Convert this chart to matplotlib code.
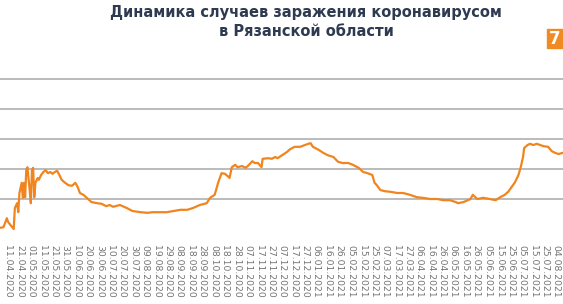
import numpy as np
import pandas as pd
import matplotlib
matplotlib.use("Agg")
import matplotlib.pyplot as plt
from matplotlib.patches import Rectangle

# Данные: смещение в днях от 04.04.2020 и значение
start_date = "2020-04-04"
day_offset = [0, 3, 6, 7, 9, 12, 13, 15, 16, 17, 19, 20, 21, 22, 23, 24, 26, 27, 28, 29,
              30, 31, 33, 34, 36, 38, 40, 42, 44, 46, 48, 50, 52, 54, 57, 60, 63, 66, 68, 70,
              73, 76, 80, 85, 89, 93, 96, 99, 105, 111, 116, 123, 129, 134, 140, 146, 152,
              158, 164, 169, 175, 181, 184, 188, 190, 191, 194, 197, 200, 201, 203, 206, 208,
              212, 215, 217, 221, 223, 226, 229, 230, 235, 238, 241, 243, 247, 251, 254, 258,
              263, 267, 270, 272, 274, 279, 283, 287, 292, 296, 300, 305, 309, 314, 318, 322,
              326, 328, 330, 333, 337, 342, 348, 353, 359, 365, 370, 377, 383, 388, 394, 399,
              401, 406, 412, 414, 418, 423, 429, 434, 438, 442, 445, 448, 451, 454, 456, 458,
              459, 462, 464, 467, 470, 473, 476, 480, 483, 486, 489, 493]
cases = [2, 3, 18, 12, 7, 0, 35, 43, 28, 60, 77, 52, 77, 53, 98, 103, 65, 43, 98, 102,
         53, 77, 85, 82, 90, 95, 98, 93, 95, 92, 95, 97, 90, 82, 77, 73, 72, 77, 70, 60,
         57, 52, 45, 43, 42, 38, 40, 37, 40, 35, 30, 28, 27, 28, 28, 28, 30,
         32, 32, 35, 40, 43, 52, 57, 70, 77, 93, 92, 87, 85, 103, 107, 103,
         105, 102, 105, 113, 110, 110, 103, 117, 118, 117, 120, 118, 123, 128, 133, 137,
         137, 140, 142, 143, 137, 132, 127, 123, 120, 112, 110, 110, 107, 102, 95, 93,
         90, 77, 73, 65, 63, 62, 60, 60, 57, 53, 52, 50, 50, 48, 48, 45,
         43, 45, 50, 57, 50, 52, 50, 48, 53, 57, 62, 70, 78, 90, 103, 120,
         135, 140, 142, 140, 142, 140, 138, 137, 130, 127, 125, 127]

tick_first = "2020-04-11"
tick_last = "2021-08-04"
grid_values = [50, 100, 150, 200, 250]

title = "Динамика случаев заражения коронавирусом\nв Рязанской области"

dates = pd.to_datetime(start_date) + pd.to_timedelta(day_offset, unit="D")
ticks = pd.date_range(tick_first, tick_last, freq="10D")

fig = plt.figure(figsize=(5.63, 3.04), dpi=100)
ax = fig.add_axes([0, 1 - 238 / 304, 1, 160 / 304])

ax.plot(dates, cases, color="#f0851f", linewidth=1.6, solid_joinstyle="round")

ax.set_xlim(pd.to_datetime(start_date), pd.to_datetime(start_date) + pd.Timedelta(days=493))
ax.set_ylim(-15, 251.7)
ax.set_yticks(grid_values)
ax.yaxis.grid(True, color="#a8a8a8", linewidth=1.1)
ax.set_axisbelow(True)
ax.tick_params(axis="y", left=False, labelleft=False)

ax.set_xticks(ticks)
ax.set_xticklabels([t.strftime("%d.%m.%Y") for t in ticks], rotation=270,
                   fontsize=6.7, color="#747474")
ax.tick_params(axis="x", length=0, pad=5)

for s in ax.spines.values():
    s.set_visible(False)

fig.text(0.543, 1 - 12 / 304, title.split("\n")[0], ha="center", va="center",
         fontsize=10.5, fontweight="bold", color="#2e3a50")
fig.text(0.545, 1 - 32 / 304, title.split("\n")[1], ha="center", va="center",
         fontsize=10.5, fontweight="bold", color="#2e3a50")

# логотип
fig.patches.append(Rectangle((547 / 563, 1 - 48 / 304), 17 / 563, 19 / 304,
                             transform=fig.transFigure, color="#f08a24", zorder=5))
fig.text(555 / 563, 1 - 38.5 / 304, "7", ha="center", va="center", fontsize=12,
         fontweight="bold", color="white", zorder=6)

fig.savefig("out.png", dpi=100)
